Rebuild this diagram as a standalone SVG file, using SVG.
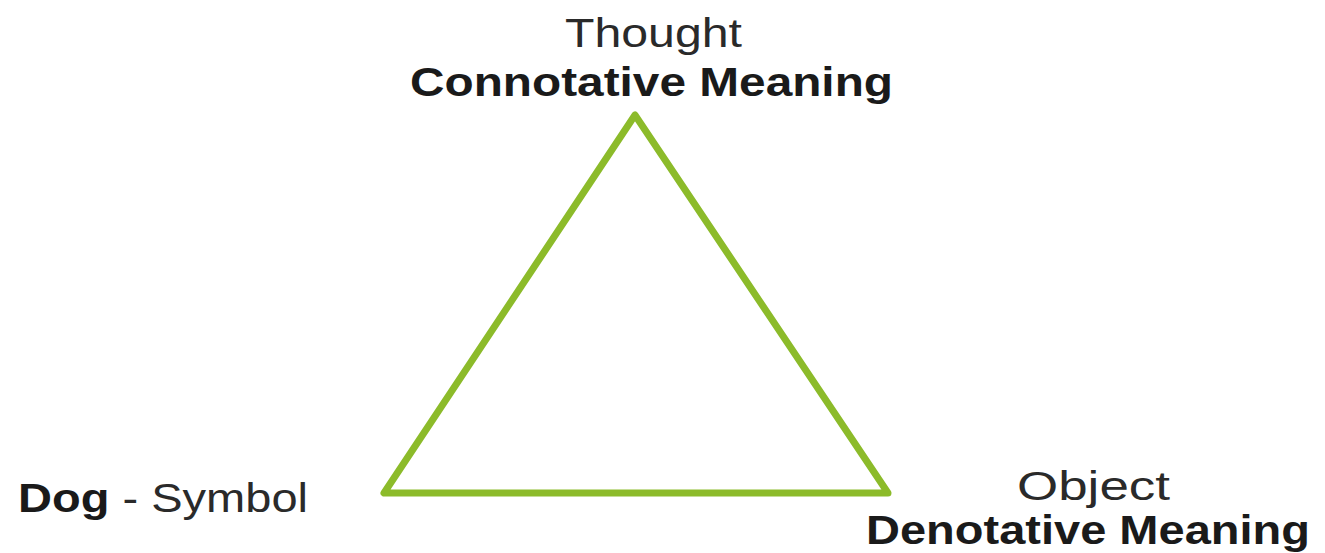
<svg xmlns="http://www.w3.org/2000/svg" width="1325" height="553" viewBox="0 0 1325 553">
<style>
.t{font-family:"Liberation Sans",Arial,sans-serif;font-size:40px;fill:#1a1a1a}
.b{font-weight:bold}
.r{font-weight:normal;fill:#2a2a2a}
.tri{fill:none;stroke:#8cbb2a;stroke-width:7;stroke-linejoin:round}
</style>
<rect width="1325" height="553" fill="#ffffff"/>
<g id="connectors">
<polygon class="tri" points="635,115 384,493 888,493"/>
</g>
<g id="thought">
<text class="t r" x="565" y="47" textLength="177" lengthAdjust="spacingAndGlyphs">Thought</text>
<text class="t b" x="410" y="96" textLength="483" lengthAdjust="spacingAndGlyphs">Connotative Meaning</text>
</g>
<g id="symbol">
<text class="t" x="18" y="512" textLength="290" lengthAdjust="spacingAndGlyphs"><tspan class="b">Dog</tspan><tspan class="r"> - Symbol</tspan></text>
</g>
<g id="object">
<text class="t r" x="1017" y="500" font-size="38" textLength="153" lengthAdjust="spacingAndGlyphs">Object</text>
<text class="t b" x="866" y="544" textLength="444" lengthAdjust="spacingAndGlyphs">Denotative Meaning</text>
</g>
</svg>
